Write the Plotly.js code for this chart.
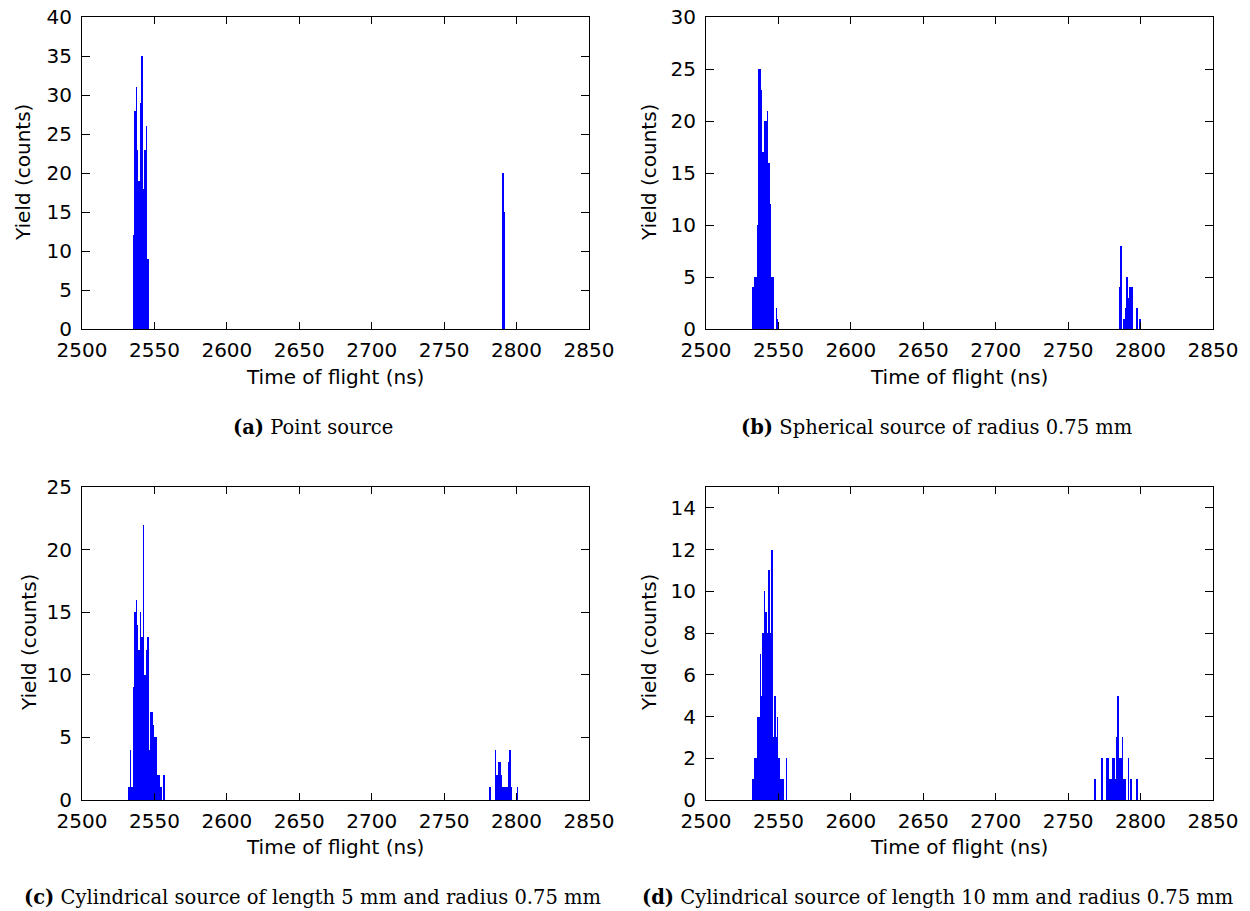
<!DOCTYPE html>
<html>
<head>
<meta charset="utf-8">
<script src="https://cdn.plot.ly/plotly-3.0.1.min.js"></script>
<style>
html,body{margin:0;padding:0;background:#fff;}
#chart{width:1250px;height:911px;}
</style>
</head>
<body>
<div id="chart"></div>
<script>
// ---- Data (bin start in ns, counts) ----
const aT1 = [2535,2536,2537,2538,2539,2540,2541,2542,2543,2544,2545];
const aY1 = [12,28,31,23,19,29,35,18,23,26,9];
const aT2 = [2790,2791];
const aY2 = [20,15];

const bT1 = [2532,2533,2534,2535,2536,2537,2538,2539,2540,2541,2542,2543,2544,2545,2546,2547,2548,2549];
const bY1 = [4,5,5,10,25,25,23,17,20,20,21,16,12,5,5,0,2,1];
const bT2 = [2785,2786,2787,2788,2789,2790,2791,2792,2793,2794,2795,2796,2797,2798,2799];
const bY2 = [4,8,0,1,2,5,3,4,4,4,0,0,2,0,1];

const cT1 = [2532,2533,2534,2535,2536,2537,2538,2539,2540,2541,2542,2543,2544,2545,2546,2547,2548,2549,2550,2551,2552,2553,2554,2555,2556];
const cY1 = [1,4,1,9,15,16,14,12,15,13,22,10,12,13,4,7,7,6,5,5,2,2,1,0,2];
const cT2 = [2781,2782,2783,2784,2785,2786,2787,2788,2789,2790,2791,2792,2793,2794,2795,2796,2797,2798,2799,2800];
const cY2 = [1,0,0,0,4,2,3,3,2,1,1,1,1,3,4,1,0,0,0,1];

const dT1 = [2532,2533,2534,2535,2536,2537,2538,2539,2540,2541,2542,2543,2544,2545,2546,2547,2548,2549,2550,2551,2552,2553,2554,2555];
const dY1 = [1,2,2,4,4,7,5,8,10,9,8,11,8,12,3,5,3,4,2,1,1,1,0,2];
const dT2 = [2768,2769,2770,2771,2772,2773,2774,2775,2776,2777,2778,2779,2780,2781,2782,2783,2784,2785,2786,2787,2788,2789,2790,2791,2792,2793,2794,2795,2796,2797];
const dY2 = [1,0,0,0,0,2,0,0,2,2,1,1,2,2,1,3,5,2,2,3,1,1,0,2,0,1,0,0,0,1];

const xTicks = [2500,2550,2600,2650,2700,2750,2800,2850];
const captions = [
  "<b>(a)</b> Point source",
  "<b>(b)</b> Spherical source of radius 0.75 mm",
  "<b>(c)</b> Cylindrical source of length 5 mm and radius 0.75 mm",
  "<b>(d)</b> Cylindrical source of length 10 mm and radius 0.75 mm"
];
const xTitle = "Time of flight (ns)";
const yTitle = "Yield (counts)";

// ---- Build ----
const W = 1250, H = 911;
const BLUE = '#0000ff';
function bars(t, y, xa, ya){
  return {type:'bar', x:t, y:y, width:1, offset:0, xaxis:xa, yaxis:ya,
          marker:{color:BLUE, line:{width:0}}, hoverinfo:'x+y'};
}
const data = [
  bars(aT1,aY1,'x','y'), bars(aT2,aY2,'x','y'),
  bars(bT1,bY1,'x2','y2'), bars(bT2,bY2,'x2','y2'),
  bars(cT1,cY1,'x3','y3'), bars(cT2,cY2,'x3','y3'),
  bars(dT1,dY1,'x4','y4'), bars(dT2,dY2,'x4','y4')
];

const tickFont = {family:'DejaVu Sans, sans-serif', size:20, color:'#000'};
function xax(px0, px1, anchor){
  return {domain:[px0/W, px1/W], anchor:anchor, range:[2500,2850], tickvals:xTicks,
    showline:true, linecolor:'#000', linewidth:1, mirror:'ticks', ticks:'inside', ticklen:7,
    tickcolor:'#000', tickwidth:1, tickfont:tickFont, showgrid:false, zeroline:false, ticklabelstandoff:3};
}
function yax(py0, py1, anchor, range, tv){
  return {domain:[1-py1/H, 1-py0/H], anchor:anchor, range:range, tickvals:tv,
    showline:true, linecolor:'#000', linewidth:1, mirror:'ticks', ticks:'inside', ticklen:8,
    tickcolor:'#000', tickwidth:1, tickfont:tickFont, showgrid:false, zeroline:false, ticklabelstandoff:5};
}

const layout = {
  width:W, height:H, margin:{l:0,r:0,t:0,b:0}, showlegend:false,
  paper_bgcolor:'#fff', plot_bgcolor:'#fff', bargap:0,
  xaxis: xax(82,589,'y'),
  yaxis: yax(17,329,'x',[0,40],[0,5,10,15,20,25,30,35,40]),
  xaxis2: xax(706,1213,'y2'),
  yaxis2: yax(17,329,'x2',[0,30],[0,5,10,15,20,25,30]),
  xaxis3: xax(82,589,'y3'),
  yaxis3: yax(487,800,'x3',[0,25],[0,5,10,15,20,25]),
  xaxis4: xax(706,1213,'y4'),
  yaxis4: yax(487,800,'x4',[0,15],[0,2,4,6,8,10,12,14]),
  annotations: []
};

const titleFont = {family:'DejaVu Sans, sans-serif', size:20, color:'#000'};
const capFont = {family:'DejaVu Serif, serif', size:19.5, color:'#000'};
function ann(text, px, py, font, angle){
  layout.annotations.push({text:text, xref:'paper', yref:'paper', x:px/W, y:1-py/H,
    xanchor:'center', yanchor:'middle', showarrow:false, font:font, textangle:angle||0});
}
// x titles
ann(xTitle, 335, 377, titleFont); ann(xTitle, 959, 377, titleFont);
ann(xTitle, 335, 847, titleFont); ann(xTitle, 959, 847, titleFont);
// y titles
ann(yTitle, 23, 173, titleFont, -90); ann(yTitle, 649, 173, titleFont, -90);
ann(yTitle, 29, 643, titleFont, -90); ann(yTitle, 649, 643, titleFont, -90);
// captions
ann(captions[0], 313, 427, capFont); ann(captions[1], 936, 427, capFont);
ann(captions[2], 312, 897, capFont); ann(captions[3], 937, 897, capFont);

Plotly.newPlot('chart', data, layout, {displayModeBar:false, staticPlot:true});
</script>
</body>
</html>
